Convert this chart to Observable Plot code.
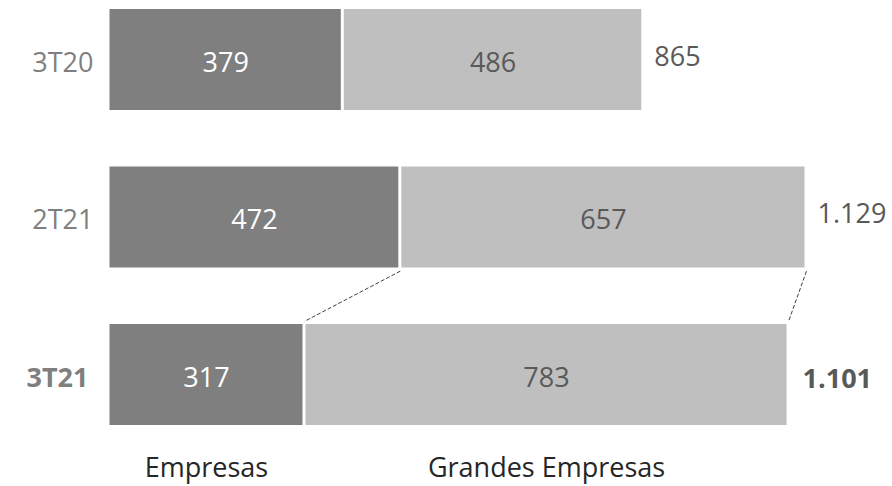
<!DOCTYPE html>
<html>
<head>
<meta charset="utf-8">
<script src="https://cdn.jsdelivr.net/npm/d3@7"></script>
<script src="https://cdn.jsdelivr.net/npm/@observablehq/plot@0.6"></script>
<style>
  html, body { margin: 0; padding: 0; background: #fff; }
  #chart svg { display: block; }
</style>
</head>
<body>
<div id="chart"></div>
<script>
const periods = ["3T20", "2T21", "3T21"];
const empresas = [379, 472, 317];
const grandes = [486, 657, 783];
const totalLabels = ["865", "1.129", "1.101"];
const segmentNames = ["Empresas", "Grandes Empresas"];
const boldRow = "3T21";

const half = 0.3206;
const rows = periods.map((p, i) => ({
  period: p, i, emp: empresas[i], gra: grandes[i],
  total: empresas[i] + grandes[i], totalLabel: totalLabels[i], bold: p === boldRow
}));
const segs = rows.flatMap(r => [
  {period: r.period, i: r.i, seg: segmentNames[0], x1: 0, x2: r.emp, v: r.emp},
  {period: r.period, i: r.i, seg: segmentNames[1], x1: r.emp, x2: r.total, v: r.gra}
]);
const last = rows[rows.length - 1];
const prev = rows[rows.length - 2];
const links = [
  {x1: prev.emp, x2: last.emp},
  {x1: prev.total, x2: last.total}
];
const bottomLabels = [
  {name: segmentNames[0], x: last.emp / 2},
  {name: segmentNames[1], x: last.emp + last.gra / 2}
];
const normalRows = rows.filter(r => !r.bold);
const boldRows = rows.filter(r => r.bold);

const font = "'Open Sans', 'Noto Sans', sans-serif";
const fs = 27;
const chart = Plot.plot({
  width: 892,
  height: 486,
  margin: 0,
  style: {fontFamily: font, background: "#fff"},
  x: {axis: null, domain: [0, 1129], range: [108, 806]},
  y: {axis: null, domain: [0, 2], range: [59.5, 374.5]},
  color: {domain: segmentNames, range: ["#7f7f7f", "#bfbfbf"]},
  marks: [
    Plot.rect(segs, {
      x1: "x1", x2: "x2",
      y1: d => d.i - half, y2: d => d.i + half,
      fill: "seg", insetLeft: 1.5, insetRight: 1.5
    }),
    Plot.text(segs.filter(d => d.seg === segmentNames[0]), {
      x: d => (d.x1 + d.x2) / 2, y: "i", text: d => String(d.v),
      fill: "#ffffff", fontSize: fs, dy: 3
    }),
    Plot.text(segs.filter(d => d.seg === segmentNames[1]), {
      x: d => (d.x1 + d.x2) / 2, y: "i", text: d => String(d.v),
      fill: "#595959", fontSize: fs, dy: 3
    }),
    Plot.text(normalRows, {
      x: 0, y: "i", text: "period", textAnchor: "end", dx: -15, dy: 3,
      fill: "#7f7f7f", fontSize: fs
    }),
    Plot.text(boldRows, {
      x: 0, y: "i", text: "period", textAnchor: "end", dx: -20, dy: 3,
      fill: "#7f7f7f", fontSize: fs, fontWeight: "bold"
    }),
    Plot.text(normalRows, {
      x: "total", y: "i", text: "totalLabel", textAnchor: "start", dx: 11, dy: -3,
      fill: "#595959", fontSize: fs
    }),
    Plot.text(boldRows, {
      x: "total", y: "i", text: "totalLabel", textAnchor: "start", dx: 14, dy: 4,
      fill: "#595959", fontSize: fs, fontWeight: "bold"
    }),
    Plot.link(links, {
      x1: "x1", x2: "x2",
      y1: 1 + half + 0.02, y2: 2 - half - 0.02,
      stroke: "#404040", strokeWidth: 1, strokeDasharray: "4,2"
    }),
    Plot.text(bottomLabels, {
      x: "x", y: 2, dy: 93, text: "name", fill: "#262626", fontSize: fs
    })
  ]
});
document.getElementById("chart").appendChild(chart);
</script>
</body>
</html>
